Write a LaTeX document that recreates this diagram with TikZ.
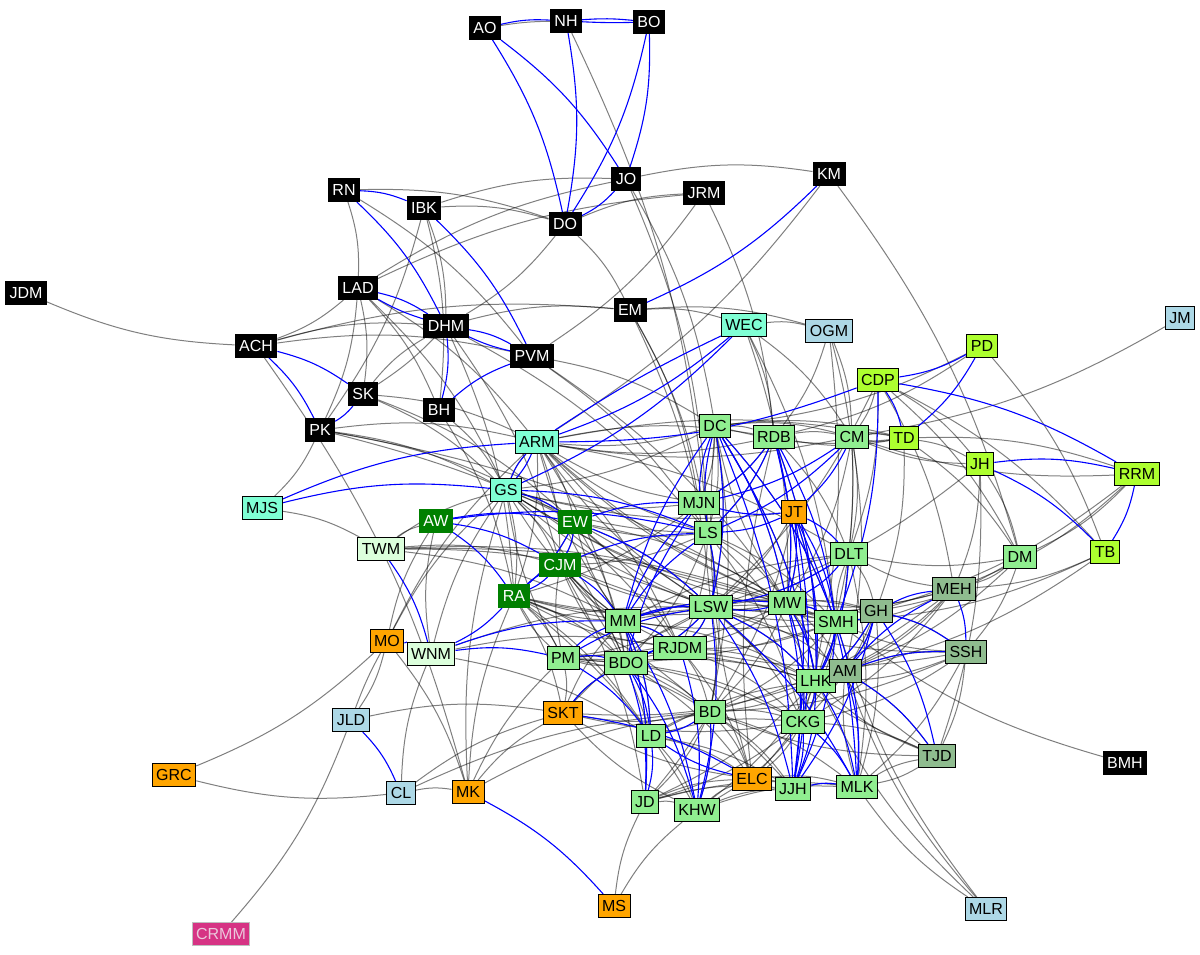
\documentclass[tikz,border=0pt]{standalone}
\usepackage{fontspec}
\setmainfont{Liberation Sans}
\pgfdeclarelayer{bg}
\pgfsetlayers{bg,main}
\definecolor{cAqua}{HTML}{7FFFD4}
\definecolor{cLBlue}{HTML}{ADD8E6}
\definecolor{cGY}{HTML}{ADFF2F}
\definecolor{cLG}{HTML}{90EE90}
\definecolor{cDSG}{HTML}{8FBC8F}
\definecolor{cGreen}{HTML}{008000}
\definecolor{cOrange}{HTML}{FFA500}
\definecolor{cPale}{RGB}{220,255,220}
\definecolor{cMag}{RGB}{214,51,132}
\definecolor{cMagT}{RGB}{235,200,220}
\begin{document}
\begin{tikzpicture}[x=0.5pt,y=-0.5pt]
\tikzset{
 nd/.style={draw=black, line width=0.5pt, inner xsep=2pt, inner ysep=0pt, minimum height=11.5pt, font=\fontsize{8}{9}\selectfont, text height=5.8pt, text depth=0.2pt},
 nbk/.style={nd, fill=black, text=white},
 naq/.style={nd, fill=cAqua},
 nlb/.style={nd, fill=cLBlue},
 ngy/.style={nd, fill=cGY},
 nlg/.style={nd, fill=cLG},
 nds/.style={nd, fill=cDSG},
 ngr/.style={nd, fill=cGreen, draw=cGreen, text=white},
 nor/.style={nd, fill=cOrange},
 npa/.style={nd, fill=cPale},
 nmg/.style={nd, fill=cMag, draw=lightgray, text=cMagT},
 ge/.style={draw=black, opacity=0.5, line width=0.5pt},
 be/.style={draw=blue, line width=0.55pt}
}
\useasboundingbox (0,0) rectangle (1200,954);
% black
\node[nbk] (AO) at (485,28) {AO};
\node[nbk] (NH) at (566,21) {NH};
\node[nbk] (BO) at (649,22) {BO};
\node[nbk] (JO) at (626,179) {JO};
\node[nbk] (DO) at (565,224) {DO};
\node[nbk] (JRM) at (704,193) {JRM};
\node[nbk] (KM) at (829,174) {KM};
\node[nbk] (RN) at (344,190) {RN};
\node[nbk] (IBK) at (424,208) {IBK};
\node[nbk] (LAD) at (358,288) {LAD};
\node[nbk] (DHM) at (446,326) {DHM};
\node[nbk] (PVM) at (532,356) {PVM};
\node[nbk] (EM) at (630,310) {EM};
\node[nbk] (ACH) at (256,346) {ACH};
\node[nbk] (SK) at (363,394) {SK};
\node[nbk] (BH) at (439,410) {BH};
\node[nbk] (PK) at (320,430) {PK};
\node[nbk] (JDM) at (26,293) {JDM};
\node[nbk] (BMH) at (1125,763) {BMH};
% aquamarine
\node[naq] (WEC) at (744,325) {WEC};
\node[naq] (ARM) at (537,442) {ARM};
\node[naq] (GS) at (506,490) {GS};
\node[naq] (MJS) at (262,508) {MJS};
% light blue
\node[nlb] (OGM) at (829,331) {OGM};
\node[nlb] (JM) at (1180,318) {JM};
\node[nlb] (JLD) at (351,720) {JLD};
\node[nlb] (CL) at (401,793) {CL};
\node[nlb] (MLR) at (986,909) {MLR};
% green yellow
\node[ngy] (PD) at (982,346) {PD};
\node[ngy] (CDP) at (878,380) {CDP};
\node[ngy] (TD) at (904,438) {TD};
\node[ngy] (JH) at (980,464) {JH};
\node[ngy] (RRM) at (1137,474) {RRM};
\node[ngy] (TB) at (1105,552) {TB};
% light green
\node[nlg] (DC) at (715,426) {DC};
\node[nlg] (RDB) at (774,437) {RDB};
\node[nlg] (CM) at (852,437) {CM};
\node[nlg] (MJN) at (699,503) {MJN};
\node[nlg] (LS) at (708,533) {LS};
\node[nlg] (DLT) at (849,554) {DLT};
\node[nlg] (DM) at (1020,557) {DM};
\node[nlg] (LSW) at (711,607) {LSW};
\node[nlg] (MW) at (787,603) {MW};
\node[nlg] (SMH) at (836,622) {SMH};
\node[nlg] (MM) at (623,621) {MM};
\node[nlg] (RJDM) at (680,648) {RJDM};
\node[nlg] (BDO) at (626,663) {BDO};
\node[nlg] (PM) at (563,658) {PM};
\node[nlg] (LHK) at (816,681) {LHK};
\node[nlg] (BD) at (710,712) {BD};
\node[nlg] (CKG) at (803,722) {CKG};
\node[nlg] (LD) at (651,736) {LD};
\node[nlg] (JJH) at (793,789) {JJH};
\node[nlg] (MLK) at (857,787) {MLK};
\node[nlg] (JD) at (645,802) {JD};
\node[nlg] (KHW) at (697,810) {KHW};
% dark sea green
\node[nds] (GH) at (876,611) {GH};
\node[nds] (MEH) at (954,589) {MEH};
\node[nds] (SSH) at (966,652) {SSH};
\node[nds] (AM) at (845,671) {AM};
\node[nds] (TJD) at (937,756) {TJD};
% green
\node[ngr] (AW) at (436,521) {AW};
\node[ngr] (EW) at (575,522) {EW};
\node[ngr] (CJM) at (560,565) {CJM};
\node[ngr] (RA) at (514,596) {RA};
% orange
\node[nor] (JT) at (794,512) {JT};
\node[nor] (MO) at (387,641) {MO};
\node[nor] (SKT) at (563,713) {SKT};
\node[nor] (GRC) at (174,775) {GRC};
\node[nor] (MK) at (468,792) {MK};
\node[nor] (ELC) at (752,779) {ELC};
\node[nor] (MS) at (614,906) {MS};
% pale
\node[npa] (TWM) at (381,549) {TWM};
\node[npa] (WNM) at (431,654) {WNM};
% magenta
\node[nmg] (CRMM) at (221,934) {CRMM};

\begin{pgfonlayer}{bg}
% ---------- gray edges ----------
\foreach \a/\b in {NH/LS, JO/KM, IBK/JO, IBK/DO, RN/DO, LAD/JO, LAD/JRM, DO/JRM, DO/EM, DO/DHM, JO/DC, JO/LS, JRM/PVM, JRM/RDB, KM/ARM, KM/DM,
 RN/LAD, RN/PVM, IBK/DHM, IBK/BH, IBK/PK, LAD/ACH, LAD/SK, LAD/PK, LAD/BH, LAD/ARM, LAD/GS, ACH/EM, ACH/DHM, ACH/PVM, EM/WEC, EM/OGM, DHM/EM, EM/MJN, EM/LS, EM/LSW,
 SK/DHM, ACH/JDM, ACH/MK, PK/MJS, PK/ARM, PK/GS, PK/EW, PK/LSW, PK/MW, SK/ARM, SK/GS, SK/EW, BH/GS, BH/RA, DHM/CJM, DHM/RA, DHM/LS, PVM/DC, PVM/MW, PVM/LS,
 WEC/OGM, WEC/SMH, WEC/MW, WEC/RDB, WEC/CM, OGM/CM, OGM/DLT, OGM/RDB, OGM/CKG, PD/DC, PD/RDB, PD/TB, CDP/CM, CDP/DLT, CDP/LSW, CDP/DM, CDP/TB, CDP/JH, CDP/MEH,
 TD/CM, TD/JH, TD/RRM, TD/DC, TD/RDB, TD/DM, TD/GH, JH/MEH, JH/DM, JH/CM, JH/LSW, JH/TJD, RRM/DM, RRM/MEH, RRM/GH, RRM/CM, TB/MEH, TB/AM, TB/SMH, DM/MEH, DM/DLT, DM/AM,
 DM/SSH, DM/GH, JM/CM, MEH/DLT, MEH/LSW, MEH/MW, SSH/TJD, SSH/LSW, SSH/MLK, SSH/CKG, TJD/LHK, TJD/MLK, TJD/LSW, TJD/BD, TJD/MW, BMH/SMH, MLR/MLK, MLR/LHK, MLR/AM, MLR/SMH,
 MO/GRC, MO/JLD, MO/MK, MO/GS, MO/AW, MO/ARM, JLD/CRMM, JLD/SKT, CL/GRC, CL/MK, CL/WNM, CL/SKT, CL/BD, MK/RA, MK/GS, MK/PM, MK/SKT, MK/BD, MS/JD, MS/KHW,
 TWM/AW, TWM/LSW, TWM/MW, TWM/SMH, TWM/MM, TWM/CJM, TWM/GS, WNM/GS, WNM/AW, WNM/LSW, WNM/RJDM, WNM/LD, MJS/TWM,
 MM/LSW, MM/MW, MM/SMH, MM/RJDM, MM/BDO, MM/LD, MM/JD, MM/GS, MM/EW, MM/CJM, MM/RA, MM/ARM, MM/DLT, MM/LHK,
 LSW/MW, LSW/SMH, LSW/LHK, LSW/BD, LSW/CKG, LSW/RJDM, LSW/BDO, LSW/PM, LSW/GS, LSW/ARM, LSW/RA, LSW/CJM, LSW/EW, LSW/DLT, LSW/GH, LSW/AM,
 MW/SMH, MW/LHK, MW/CKG, MW/BD, MW/RJDM, MW/PM, MW/GS, MW/ARM, MW/RA, MW/DC, MW/GH, MW/AM,
 SMH/LHK, SMH/BD, SMH/RJDM, SMH/PM, SMH/GS, SMH/ARM, SMH/CJM, SMH/RA, SMH/DLT, SMH/GH,
 RJDM/BD, RJDM/LHK, RJDM/CKG, RJDM/ELC, RJDM/PM, RJDM/CJM, RJDM/RA, BDO/BD, BDO/LHK, BDO/CKG, BDO/JJH, BDO/ELC, BDO/PM, BDO/CJM,
 PM/BD, PM/LHK, PM/CKG, PM/RA, PM/CJM, PM/GS, PM/SKT, LHK/BD, LHK/CKG, LHK/JD, LHK/KHW, LHK/ELC, LHK/SKT,
 BD/CKG, BD/JD, BD/KHW, BD/ELC, BD/SKT, BD/JJH, BD/MLK, CKG/JD, CKG/KHW, CKG/ELC, CKG/SKT, CKG/AM, CKG/TJD,
 LD/BD, LD/LHK, LD/CKG, LD/ELC, LD/KHW, LD/JJH, JD/KHW, JD/ELC, JD/JJH, JD/MLK, KHW/JJH, KHW/MLK, KHW/ELC, KHW/SKT,
 ELC/JJH, ELC/MLK, ELC/SKT, ELC/DC, ELC/RDB, JJH/MLK, MLK/AM, MLK/TJD,
 DC/RDB, DC/CM, DC/TD, DC/LS, DC/MJN, DC/LSW, DC/MW, DC/SMH, DC/LHK, DC/BD, DC/ARM, DC/GS,
 RDB/CM, RDB/MJN, RDB/LS, RDB/DLT, RDB/MW, RDB/LHK, RDB/ARM, CM/TD, CM/DLT, CM/LHK, CM/MW, CM/AM, CM/ARM,
 MJN/LS, MJN/ARM, MJN/GS, MJN/RA, LS/LSW, LS/MW, LS/SMH, LS/RJDM, LS/BDO, LS/ARM, LS/GS, LS/EW, LS/CJM, LS/LHK, LS/BD, LS/CKG,
 DLT/LHK, DLT/CKG, DLT/MLK, DLT/GH, DLT/LSW, JT/LSW, JT/MW, JT/LHK, JT/BD, JT/GS,
 GS/ARM, GS/EW, GS/CJM, GS/RA, GS/RJDM, GS/BDO, ARM/EW, ARM/CJM, ARM/RA, ARM/RJDM, ARM/BDO, ARM/DLT, ARM/TD, ARM/RDB,
 EW/CJM, EW/RA, EW/RJDM, EW/BDO, EW/MW, EW/LSW, CJM/BDO, CJM/LD, CJM/JD, RA/BDO, RA/LD, RA/BD, RA/SKT, RA/PM, RA/KHW,
 SKT/BDO, SKT/MM, SKT/LSW, GH/AM, GH/LHK, GH/CKG, GH/MLK, GH/SSH, AM/SSH, AM/TJD, MEH/SMH, MEH/AM, MEH/LHK, MEH/CKG, MEH/BD,
 SSH/SMH, SSH/LHK, SSH/BD, SSH/RJDM}
 \draw[ge] (\a) to[bend left=10] (\b);
\draw[ge] (AO) to[bend left=4] (NH);
\draw[ge] (SK) to[bend right=6] (DHM);
\draw[ge] (MO) to[bend right=4] (JLD);
\draw[ge] (BD) to[bend left=4] (JD);
% ---------- blue edges ----------
\foreach \a/\b in {AO/DO, AO/JO, NH/DO, BO/DO, BO/JO, JO/DO, KM/EM, RN/IBK, RN/DHM, IBK/PVM, LAD/DHM, DHM/PVM, DHM/BH, BH/PVM,
 ACH/SK, ACH/PK, SK/PK, MJS/ARM, MJS/GS, WEC/ARM, WEC/GS, CDP/ARM, PD/CDP, PD/TD, CDP/TD, CDP/RRM, CDP/SMH, JH/RRM, JH/TB, RRM/TB,
 GS/ARM, GS/EW, GS/LS, AW/EW, AW/CJM, AW/RA, EW/CJM, CJM/RA, EW/RA, CJM/LS, CJM/MM, RA/WNM, WNM/MM, WNM/PM, MO/WNM, TWM/WNM, JLD/CL, MK/MS,
 SKT/BDO, SKT/ELC, PM/MM, PM/BDO, PM/LSW, PM/LD, MM/LSW, MM/MW, MM/RJDM, MM/LD, MM/JD, MM/KHW, MM/DC, MM/MJN, MM/LS,
 BDO/LD, BDO/JD, BDO/KHW, BDO/RJDM, BDO/MJN, LD/JD, RJDM/KHW, BD/KHW, BD/LD,
 LS/LSW, LS/DC, MJN/DC, DC/LSW, DC/MW, DC/LHK, DC/SMH, DC/JJH, RDB/MW, RDB/LHK, RDB/SMH, RDB/JJH, RDB/LS, RDB/MJN, CM/JT, CM/LS, CM/MJN,
 JT/LS, JT/MJN, JT/DLT, JT/MW, JT/LHK, JT/JJH, JT/SMH, JT/MLK, DLT/LSW, DLT/LHK, DLT/MW,
 MW/LSW, MW/SMH, MW/LHK, MW/JJH, MW/CKG, SMH/LHK, SMH/JJH, SMH/MLK, LHK/JJH, LHK/CKG, LHK/MLK, CKG/JJH, CKG/MLK, JJH/MLK, ELC/LD,
 GH/MEH, MEH/SSH, GH/SSH, AM/SSH, AM/MEH, GH/TJD, AM/TJD, AM/MLK, GH/AM, GH/LHK, GH/JJH, GH/SMH,
 LSW/RJDM, LSW/LHK, LSW/BDO, LSW/MLK, LSW/JJH, LSW/KHW, EW/LSW, EW/MJN, AW/LS}
 \draw[be] (\a) to[bend left=10] (\b);
\draw[be] (AO) to[bend left=8] (NH);
\draw[be] (NH) to[bend left=5] (BO);
\draw[be] (NH) to[bend right=2] (BO);
\draw[be] (LAD) to[bend right=6] (DHM);
\draw[be] (DHM) to[bend right=6] (PVM);
\draw[be] (WEC) to[bend right=4] (ARM);
\draw[be] (GS) to[bend right=8] (ARM);
\draw[be] (CJM) to[bend right=8] (RA);
\end{pgfonlayer}
\end{tikzpicture}
\end{document}
